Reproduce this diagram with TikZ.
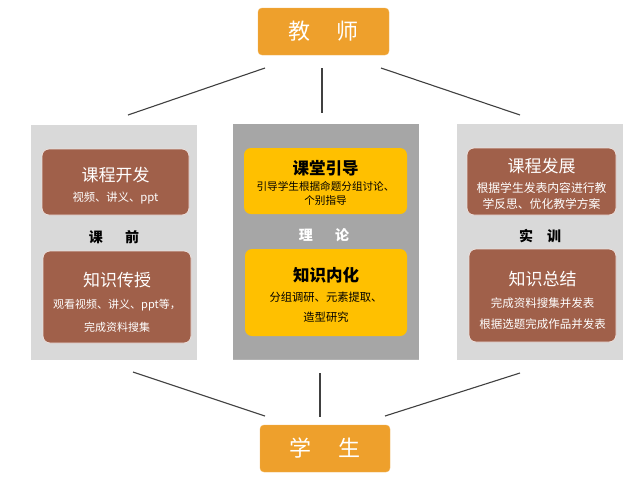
\documentclass[tikz,border=0pt]{standalone}
\usepackage{fontspec}
\setmainfont{Noto Sans CJK SC}
\begin{document}
\begin{tikzpicture}[x=1pt,y=-1pt,
  role/.style={fill=roleorange,draw=roleorange!80!white,rounded corners=4pt,text=white,font=\fontsize{22}{24}\selectfont},
  brownbox/.style={fill=boxbrown,draw=white!80!boxbrown,line width=0.8pt,rounded corners=7pt,text=white},
  yellowbox/.style={fill=boxyellow,draw=none,rounded corners=7pt,text=black},
  link/.style={draw=black!75,line width=1.1pt},
  ttl/.style={font=\fontsize{17}{20}\selectfont},
  sub/.style={font=\fontsize{11.3}{15}\selectfont}
]
\definecolor{roleorange}{HTML}{EEA02C}
\definecolor{boxbrown}{HTML}{A0604A}
\definecolor{boxyellow}{HTML}{FFC000}
\definecolor{lightpanel}{HTML}{D9D9D9}
\definecolor{midpanel}{HTML}{A6A6A6}
\useasboundingbox (0,0) rectangle (640,480);
% panels
\fill[lightpanel] (31,125) rectangle (197,360);
\fill[midpanel] (233,124) rectangle (419,359);
\draw[black!30,line width=0.6pt] (233,359) -- (419,359);
\fill[lightpanel] (457,124) rectangle (623,360);
% role boxes
\node[role,minimum width=131pt,minimum height=47pt,inner sep=0pt] (teacher) at (323.5,31.5) {教\hspace{1.2em}师};
\node[role,minimum width=130pt,minimum height=47pt,inner sep=0pt] (student) at (325,448.5) {学\hspace{1.2em}生};
% left column
\path[brownbox] (42,149) rectangle (189,215);
\node[ttl,text=white] (kc) at (115.5,175) {课程开发};
\node[sub,text=white] (kcs) at (115.5,198) {视频、讲义、ppt};
\node[font=\bfseries\fontsize{14}{16}\selectfont] (kq) at (114,237) {课\hspace{1.6em}前};
\path[brownbox] (43,251) rectangle (191,343);
\node[ttl,text=white] (zs) at (117,280) {知识传授};
\node[sub,text=white,align=center,font=\fontsize{11}{23}\selectfont] (zss) at (117,316) {观看视频、讲义、ppt等，\\完成资料搜集};
% middle column
\path[yellowbox] (244,148) rectangle (407,214);
\node[font=\bfseries\fontsize{16.5}{20}\selectfont] (kt) at (325.5,168) {课堂引导};
\node[align=center,font=\fontsize{10.6}{14}\selectfont] (kts) at (325.5,193) {引导学生根据命题分组讨论、\\个别指导};
\node[font=\bfseries\fontsize{14}{16}\selectfont,text=white] (ll) at (324,235) {理\hspace{1.6em}论};
\path[yellowbox] (245,249) rectangle (407,336);
\node[font=\bfseries\fontsize{16.5}{20}\selectfont] (zn) at (326,275) {知识内化};
\node[align=center,font=\fontsize{11.3}{20}\selectfont] (zns) at (326,307) {分组调研、元素提取、\\造型研究};
% right column
\path[brownbox] (467,148) rectangle (616,215);
\node[ttl,text=white] (kf) at (541.5,166) {课程发展};
\node[text=white,align=center,font=\fontsize{11.8}{16}\selectfont] (kfs) at (541.5,196) {根据学生发表内容进行教\\学反思、优化教学方案};
\node[font=\bfseries\fontsize{14}{16}\selectfont] (sx) at (540,236) {实\hspace{1.0em}训};
\path[brownbox] (469,249) rectangle (616,342);
\node[ttl,text=white] (zj) at (542.5,279) {知识总结};
\node[text=white,align=center,font=\fontsize{11.5}{21}\selectfont] (zjs) at (542.5,314) {完成资料搜集并发表\\根据选题完成作品并发表};
% connectors
\coordinate (t1) at (265,68); \coordinate (l1) at (128,115);
\coordinate (t2) at (322,68); \coordinate (m1) at (322,113);
\coordinate (t3) at (381,68); \coordinate (r1) at (520,115);
\coordinate (l2) at (133,372); \coordinate (s1) at (265,416);
\coordinate (m2) at (320,373); \coordinate (s2) at (320,417);
\coordinate (r2) at (520,373); \coordinate (s3) at (385,416);
\draw[link] (t1) -- (l1);
\draw[link] (t2) -- (m1);
\draw[link] (t3) -- (r1);
\draw[link] (l2) -- (s1);
\draw[link] (m2) -- (s2);
\draw[link] (r2) -- (s3);
\end{tikzpicture}
\end{document}
